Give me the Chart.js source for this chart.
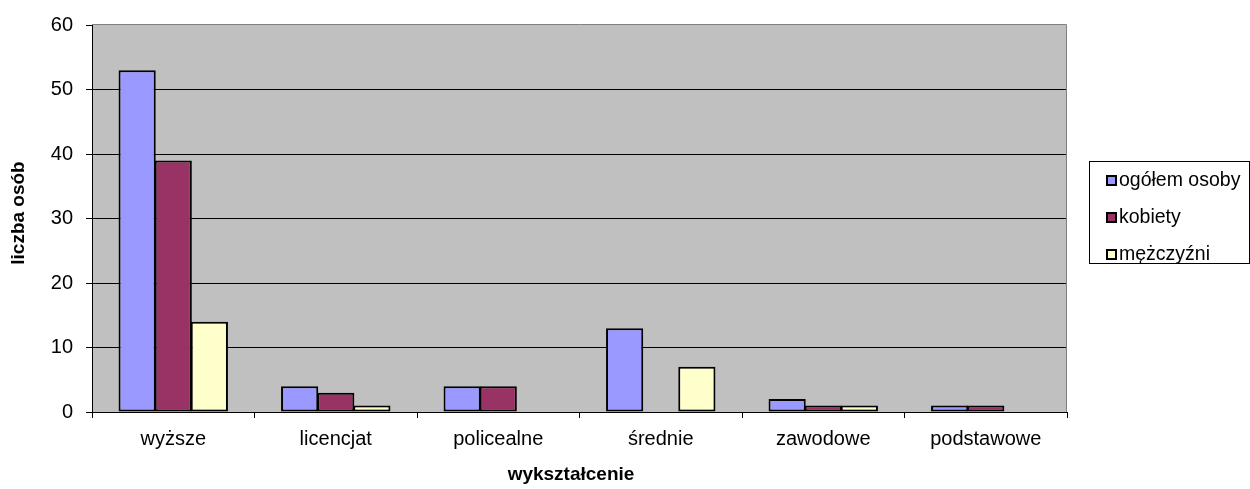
<!DOCTYPE html>
<html>
<head>
<meta charset="utf-8">
<script src="https://cdn.jsdelivr.net/npm/chart.js@4.4.0/dist/chart.umd.min.js"></script>
<style>
  html, body { margin: 0; padding: 0; background: #fff; }
  #wrap { width: 1250px; height: 489px; }
</style>
</head>
<body>
<div id="wrap"><canvas id="chart"></canvas></div>
<script>
const categories = ["wyższe", "licencjat", "policealne", "średnie", "zawodowe", "podstawowe"];
const ogolem = [53, 4, 4, 13, 2, 1];
const kobiety = [39, 3, 4, 0, 1, 1];
const mezczyzni = [14, 1, 0, 7, 1, 0];
const seriesNames = ["ogółem osoby", "kobiety", "mężczyźni"];
const seriesColors = ["#9999FF", "#993366", "#FFFFCC"];
const yTitle = "liczba osób";
const xTitle = "wykształcenie";

const FONT = "Arial, 'Liberation Sans', sans-serif";

// gray plot background + border, like the old excel charts
const plotBg = {
  id: "plotBg",
  beforeDraw(chart) {
    const { ctx, chartArea: a } = chart;
    ctx.save();
    ctx.fillStyle = "#C0C0C0";
    ctx.fillRect(a.left, a.top, a.right - a.left, a.bottom - a.top);
    ctx.restore();
  },
  afterDatasetsDraw(chart) {
    const { ctx, chartArea: a } = chart;
    ctx.save();
    ctx.strokeStyle = "#808080";
    ctx.lineWidth = 1;
    ctx.beginPath();
    ctx.moveTo(a.left, a.top - 0.5);
    ctx.lineTo(a.right - 0.5, a.top - 0.5);
    ctx.lineTo(a.right - 0.5, a.bottom);
    ctx.stroke();
    ctx.restore();
  },
};

// axis titles and the legend box drawn by hand
const extras = {
  id: "extras",
  afterDraw(chart) {
    const ctx = chart.ctx;
    ctx.save();
    ctx.fillStyle = "#000";
    ctx.font = "bold 19px " + FONT;
    ctx.textAlign = "center";
    ctx.textBaseline = "middle";
    ctx.fillText(xTitle, 571, 475);
    ctx.translate(19, 213);
    ctx.rotate(-Math.PI / 2);
    ctx.fillText(yTitle, 0, 0);
    ctx.restore();

    ctx.save();
    ctx.strokeStyle = "#000";
    ctx.lineWidth = 1;
    ctx.strokeRect(1089.5, 161.5, 160, 102);
    ctx.font = "19.5px " + FONT;
    ctx.textBaseline = "middle";
    chart.data.datasets.forEach((ds, i) => {
      const cy = 180.5 + i * 37;
      ctx.fillStyle = ds.backgroundColor;
      ctx.fillRect(1107, cy - 4.5, 9, 9);
      ctx.lineWidth = 2;
      ctx.strokeStyle = "#000";
      ctx.strokeRect(1107, cy - 4.5, 9, 9);
      ctx.fillStyle = "#000";
      ctx.fillText(ds.label, 1119, cy);
    });
    ctx.restore();
  },
};

new Chart(document.getElementById("chart"), {
  type: "bar",
  data: {
    labels: categories,
    datasets: [ogolem, kobiety, mezczyzni].map((vals, i) => ({
      label: seriesNames[i],
      data: vals,
      backgroundColor: seriesColors[i],
      borderColor: "#000",
      borderWidth: 2,
      borderSkipped: false,
      categoryPercentage: 3 / 4.5,
      barPercentage: 1.03,
    })),
  },
  options: {
    responsive: true,
    maintainAspectRatio: false,
    animation: false,
    events: [],
    layout: { padding: { left: 0, right: 183, top: 24, bottom: 0 } },
    plugins: {
      legend: { display: false },
      tooltip: { enabled: false },
    },
    scales: {
      x: {
        offset: true,
        afterFit: (s) => { s.height = 77; },
        grid: { offset: true, drawOnChartArea: false, color: "#000", tickLength: 6 },
        border: { color: "#000", width: 1 },
        ticks: { color: "#000", padding: 9, font: { family: FONT, size: 20 }, maxRotation: 0 },
      },
      y: {
        min: 0,
        max: 60,
        afterFit: (s) => { s.width = 92; },
        ticks: { stepSize: 10, color: "#000", padding: 13, font: { family: FONT, size: 20 } },
        grid: {
          tickLength: 6,
          color: (c) => (c.tick && c.tick.value === 60 ? "rgba(0,0,0,0)" : "#000"),
          tickColor: "#000",
        },
        border: { color: "#000", width: 1 },
      },
    },
  },
  plugins: [plotBg, extras],
});
</script>
</body>
</html>
